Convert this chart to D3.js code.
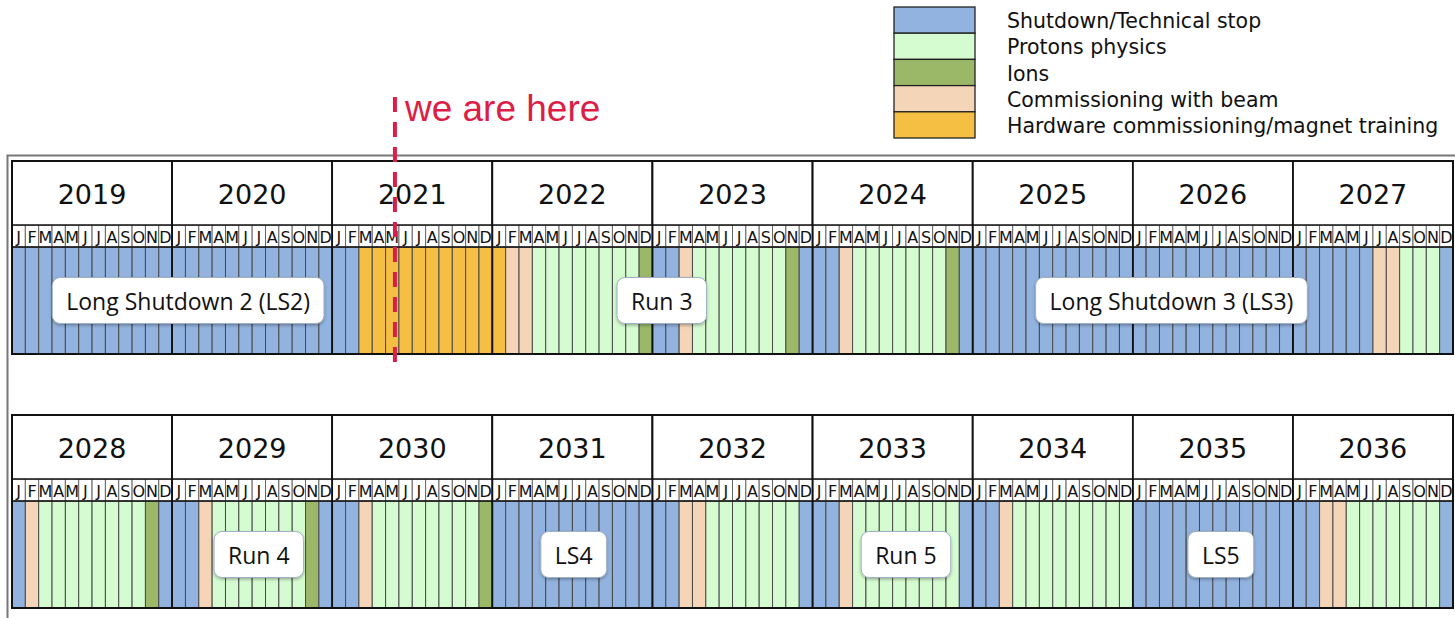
<!DOCTYPE html>
<html>
<head>
<meta charset="utf-8">
<script src="https://cdn.jsdelivr.net/npm/d3@7"></script>
<style>
  body { margin: 0; background: #fff; }
  svg { display: block; }
</style>
</head>
<body>
<svg id="chart"></svg>
<script>
/*=================
=== The data
=================*/
var years = [2019, 2020, 2021, 2022, 2023, 2024, 2025, 2026, 2027,
             2028, 2029, 2030, 2031, 2032, 2033, 2034, 2035, 2036];
var monthLetters = ['J', 'F', 'M', 'A', 'M', 'J', 'J', 'A', 'S', 'O', 'N', 'D'];

// S shutdown, P protons, I ions, C commissioning with beam, H hardware commissioning
var categories = ['S', 'P', 'I', 'C', 'H'];
var categoryNames = [
	'Shutdown/Technical stop',
	'Protons physics',
	'Ions',
	'Commissioning with beam',
	'Hardware commissioning/magnet training'
];

// one string per year, one letter per month
var schedule = [
	'SSSSSSSSSSSS', // 2019
	'SSSSSSSSSSSS', // 2020
	'SSHHHHHHHHHH', // 2021
	'HCCPPPPPPPPI', // 2022
	'SSCPPPPPPPIS', // 2023
	'SSCPPPPPPPIS', // 2024
	'SSSSSSSSSSSS', // 2025
	'SSSSSSSSSSSS', // 2026
	'SSSSSSCCPPPS', // 2027
	'SCPPPPPPPPIS', // 2028
	'SSCPPPPPPPIS', // 2029
	'SSCPPPPPPPPI', // 2030
	'SSSSSSSSSSSS', // 2031
	'SSCCPPPPPPPS', // 2032
	'SSCPPPPPPPPS', // 2033
	'SSCPPPPPPPPP', // 2034
	'SSSSSSSSSSSS', // 2035
	'SSCCPPPPPPPS'  // 2036
];

// phase labels, centred on a month counted from Jan 2019
var phaseNames = ['Long Shutdown 2 (LS2)', 'Run 3', 'Long Shutdown 3 (LS3)', 'Run 4', 'LS4', 'Run 5', 'LS5'];
var phaseMonths = [13.2, 48.7, 86.9, 126.5, 150.1, 175, 198.6];

// "we are here" marker, months from Jan 2019
var nowMonth = 28.7;

/*=================
=== The vars
=================*/
var width = 1455, height = 618;
var yearsPerRow = 9;
var monthsPerRow = yearsPerRow * 12;

var palette = d3.scaleOrdinal()
	.domain(categories)
	.range(['#92b3df', '#d5fcd0', '#9bb868', '#f5d5b7', '#f5bf44']);

var svg = d3.select('#chart')
	.attr('width', width)
	.attr('height', height);

var x = d3.scaleLinear().domain([0, monthsPerRow]).range([12, 1453]);
var rowY = d3.scaleLinear().domain([0, 1]).range([161, 415]);

// heights inside a row
var headH = 64, monthH = 22, cellH = 107;

var months = [];
schedule.forEach(function (s, yi) {
	s.split('').forEach(function (c, m) {
		months.push({ year: years[yi], idx: yi * 12 + m, m: m, cat: c });
	});
});

var defs = svg.append('defs');
var shadow = defs.append('filter').attr('id', 'shadow')
	.attr('x', '-20%').attr('y', '-30%').attr('width', '140%').attr('height', '170%');
shadow.append('feDropShadow')
	.attr('dx', 0).attr('dy', 1.5).attr('stdDeviation', 1.5)
	.attr('flood-color', '#000').attr('flood-opacity', 0.3);

/*=================
=== Outer frame
=================*/
svg.append('rect')
	.attr('x', 7.5).attr('y', 155.5)
	.attr('width', 1460).attr('height', 480)
	.attr('fill', 'none')
	.attr('stroke', '#777')
	.attr('stroke-width', 2);

/*=================
=== Grid
=================*/
function rowOf(idx) { return Math.floor(idx / monthsPerRow); }
function colOf(idx) { return idx % monthsPerRow; }

var grid = svg.append('g').attr('class', 'grid');

// month cells
grid.selectAll('rect.cell')
	.data(months)
	.enter().append('rect')
	.attr('class', 'cell')
	.attr('x', function (d) { return x(colOf(d.idx)); })
	.attr('y', function (d) { return rowY(rowOf(d.idx)) + headH + monthH; })
	.attr('width', x(1) - x(0))
	.attr('height', cellH)
	.attr('fill', function (d) { return palette(d.cat); })
	.attr('stroke', '#4a4a4a')
	.attr('stroke-width', 1);

// month letters
grid.selectAll('rect.mlab')
	.data(months)
	.enter().append('rect')
	.attr('class', 'mlab')
	.attr('x', function (d) { return x(colOf(d.idx)); })
	.attr('y', function (d) { return rowY(rowOf(d.idx)) + headH; })
	.attr('width', x(1) - x(0))
	.attr('height', monthH)
	.attr('fill', '#fff')
	.attr('stroke', '#666')
	.attr('stroke-width', 1);

grid.selectAll('text.mlab')
	.data(months)
	.enter().append('text')
	.attr('class', 'mlab')
	.attr('x', function (d) { return x(colOf(d.idx) + 0.5); })
	.attr('y', function (d) { return rowY(rowOf(d.idx)) + headH + monthH / 2 + 1; })
	.attr('text-anchor', 'middle')
	.attr('dominant-baseline', 'central')
	.attr('font-family', 'DejaVu Sans, Verdana, sans-serif')
	.attr('font-size', 16)
	.attr('fill', '#111')
	.text(function (d) { return monthLetters[d.m]; });

// year headers
var yearData = years.map(function (y, i) { return { year: y, i: i }; });
var yearG = grid.selectAll('g.year')
	.data(yearData)
	.enter().append('g')
	.attr('class', 'year');

yearG.append('rect')
	.attr('x', function (d) { return x((d.i % yearsPerRow) * 12); })
	.attr('y', function (d) { return rowY(Math.floor(d.i / yearsPerRow)); })
	.attr('width', x(12) - x(0))
	.attr('height', headH)
	.attr('fill', '#fff')
	.attr('stroke', '#111')
	.attr('stroke-width', 1.5);

yearG.append('text')
	.attr('x', function (d) { return x((d.i % yearsPerRow) * 12 + 6); })
	.attr('y', function (d) { return rowY(Math.floor(d.i / yearsPerRow)) + 33; })
	.attr('text-anchor', 'middle')
	.attr('dominant-baseline', 'central')
	.attr('font-family', 'DejaVu Sans, Verdana, sans-serif')
	.attr('font-size', 27)
	.attr('fill', '#111')
	.text(function (d) { return d.year; });

// thick year separators through the whole block
yearG.append('rect')
	.attr('x', function (d) { return x((d.i % yearsPerRow) * 12); })
	.attr('y', function (d) { return rowY(Math.floor(d.i / yearsPerRow)); })
	.attr('width', x(12) - x(0))
	.attr('height', headH + monthH + cellH)
	.attr('fill', 'none')
	.attr('stroke', '#111')
	.attr('stroke-width', 1.6);

// line between letters and cells
[0, 1].forEach(function (r) {
	grid.append('line')
		.attr('x1', x(0)).attr('x2', x(monthsPerRow))
		.attr('y1', rowY(r) + headH + monthH).attr('y2', rowY(r) + headH + monthH)
		.attr('stroke', '#111').attr('stroke-width', 1.3);
	grid.append('rect')
		.attr('x', x(0)).attr('y', rowY(r))
		.attr('width', x(monthsPerRow) - x(0))
		.attr('height', headH + monthH + cellH)
		.attr('fill', 'none')
		.attr('stroke', '#111')
		.attr('stroke-width', 2);
});

/*=================
=== Phase labels
=================*/
var labelG = svg.selectAll('g.phase')
	.data(phaseNames.map(function (n, i) { return { name: n, at: phaseMonths[i] }; }))
	.enter().append('g')
	.attr('class', 'phase');

labelG.each(function (d) {
	var g = d3.select(this);
	var r = rowOf(Math.floor(d.at));
	var cx = x(d.at - r * monthsPerRow);
	var cy = rowY(r) + headH + monthH + cellH / 2;
	var box = g.append('rect');
	var t = g.append('text')
		.attr('x', cx).attr('y', cy)
		.attr('text-anchor', 'middle')
		.attr('dominant-baseline', 'central')
		.attr('font-family', 'Open Sans, sans-serif')
		.attr('font-size', 23)
		.attr('fill', '#111')
		.text(d.name);
	var w = t.node().getComputedTextLength() + 28;
	var h = 46;
	box.attr('x', cx - w / 2).attr('y', cy - h / 2)
		.attr('width', w).attr('height', h)
		.attr('rx', 8).attr('ry', 8)
		.attr('fill', '#fff')
		.attr('stroke', '#9fb0c2')
		.attr('stroke-width', 1)
		.attr('filter', 'url(#shadow)');
});

/*=================
=== We are here
=================*/
var nowX = x(nowMonth);
svg.append('line')
	.attr('x1', nowX).attr('x2', nowX)
	.attr('y1', 97).attr('y2', 366)
	.attr('stroke', '#dc1e46')
	.attr('stroke-width', 4)
	.attr('stroke-dasharray', '15 10');

svg.append('text')
	.attr('x', nowX + 10)
	.attr('y', 121)
	.attr('font-family', 'Liberation Sans, Arial, sans-serif')
	.attr('font-size', 37)
	.attr('fill', '#dc1e46')
	.text('we are here');

/*=================
=== Legend
=================*/
var legend = svg.append('g').attr('class', 'legend');
var legY = d3.scaleBand().domain(categories).range([7, 138]);

legend.selectAll('rect')
	.data(categories)
	.enter().append('rect')
	.attr('x', 894)
	.attr('y', function (d) { return legY(d); })
	.attr('width', 81)
	.attr('height', legY.bandwidth())
	.attr('fill', function (d) { return palette(d); })
	.attr('stroke', '#222')
	.attr('stroke-width', 1.3);

legend.selectAll('text')
	.data(categories)
	.enter().append('text')
	.attr('x', 1007)
	.attr('y', function (d) { return legY(d) + legY.bandwidth() / 2 + 1; })
	.attr('dominant-baseline', 'central')
	.attr('font-family', 'DejaVu Sans, Verdana, sans-serif')
	.attr('font-size', 20.5)
	.attr('fill', '#111')
	.text(function (d, i) { return categoryNames[i]; });
</script>
</body>
</html>
